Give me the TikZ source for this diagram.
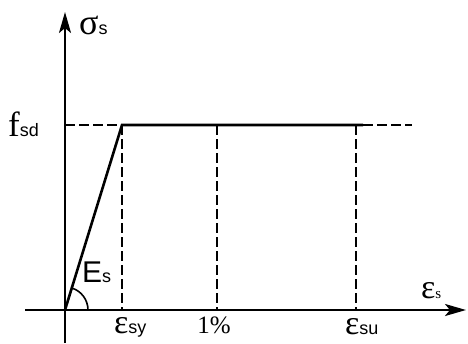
\documentclass[tikz,border=0pt]{standalone}
\usepackage{fontspec}
\setmainfont{Liberation Serif}
\newfontfamily\subf{Liberation Sans}
\usetikzlibrary{arrows.meta,calc}
\tikzset{
  ax/.style={line width=2.4pt,-{Stealth[length=21pt,width=12pt,inset=5pt]}},
  solidline/.style={line width=2.6pt},
  dashline/.style={line width=2.2pt,dash pattern=on 9.5pt off 4.5pt},
  lbl/.style={inner sep=0pt,font=\fontsize{34}{36}\selectfont}
}
\newcommand{\sbx}[1]{{\subf\fontsize{18}{20}\selectfont #1}}
\begin{document}
\begin{tikzpicture}[x=1pt,y=-1pt]
\useasboundingbox (0,0) rectangle (468,343);
\coordinate (O) at (65,310);
\coordinate (ytop) at (65,12);
\coordinate (ybot) at (65,343);
\coordinate (xleft) at (25,310);
\coordinate (xright) at (466,310);
\coordinate (F) at (65,125);
\coordinate (Y) at (122,125);
\coordinate (Yb) at (122,310);
\coordinate (P) at (217,125);
\coordinate (Pb) at (217,310);
\coordinate (U) at (356,125);
\coordinate (Ub) at (356,310);
\coordinate (Ue) at (363,125);
\coordinate (De) at (412,125);
% axes
\draw[ax] (ybot) -- (ytop);
\draw[ax] (xleft) -- (xright);
% curve
\draw[solidline] (O) -- (Y) -- (Ue);
\draw[dashline] (F) -- (Y);
\draw[dashline] (Ue) -- (De);
\draw[dashline] (Y) -- (Yb);
\draw[dashline] (P) -- (Pb);
\draw[dashline] (U) -- (Ub);
% angle arc
\draw[line width=1.6pt] ($(O)+(23,0)$) arc[start angle=0,end angle=-72.9,radius=23];
% labels
\node[lbl,anchor=west,font=\fontsize{36}{38}\selectfont] (sig) at (79,25) {σ\sbx{s}};
\node[lbl,anchor=west,font=\fontsize{35}{37}\selectfont] (fsd) at (8,124) {f\sbx{sd}};
\node[lbl,anchor=west] (Es) at (82,272) {{\subf\fontsize{30}{32}\selectfont E}\sbx{s}};
\node[lbl,anchor=west] (esy) at (114,327) {ε\sbx{sy}};
\node[lbl,anchor=center,font=\fontsize{25}{27}\selectfont] (pc) at (214,325) {1\%};
\node[lbl,anchor=west] (esu) at (345,327) {ε\sbx{su}};
\node[lbl,anchor=west] (es) at (421,291) {ε{\fontsize{15}{17}\selectfont s}};
\end{tikzpicture}
\end{document}
